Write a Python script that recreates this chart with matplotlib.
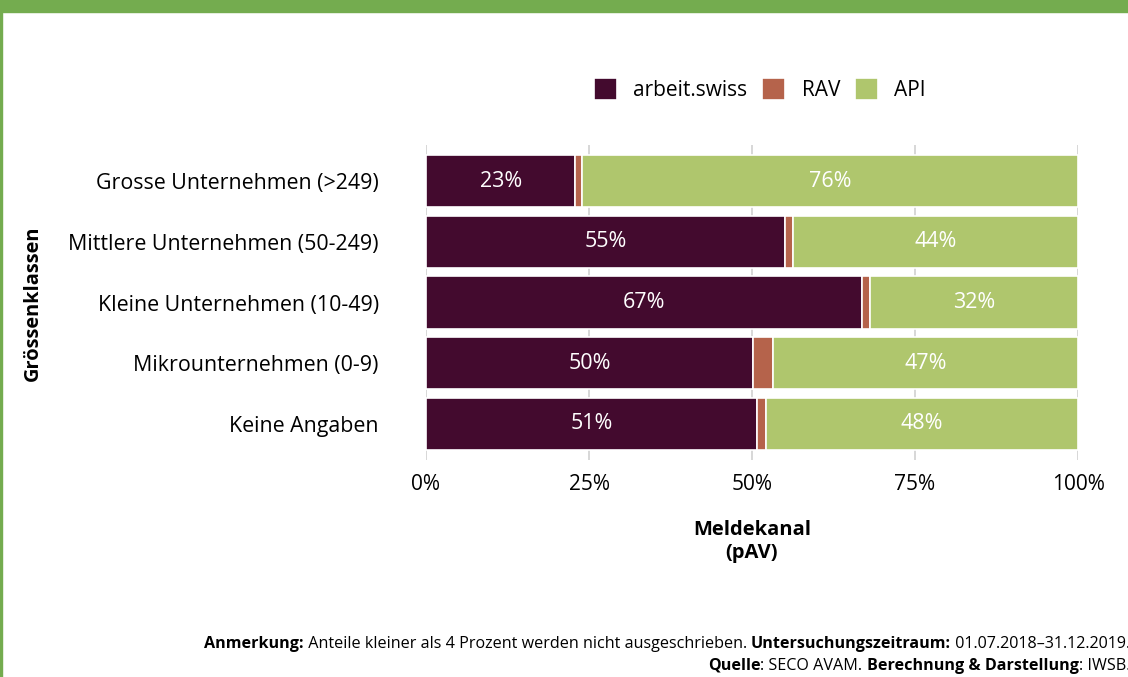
import matplotlib.pyplot as plt
import numpy as np

categories = ["Grosse Unternehmen (>249)", "Mittlere Unternehmen (50-249)",
              "Kleine Unternehmen (10-49)", "Mikrounternehmen (0-9)", "Keine Angaben"]
series_names = ["arbeit.swiss", "RAV", "API"]
arbeit = [22.9, 55.1, 66.9, 50.2, 50.8]
rav = [1.0, 1.2, 1.2, 3.0, 1.4]
api = [76.1, 43.7, 31.9, 46.8, 47.8]
colors = ["#430A2E", "#B5634B", "#AFC66D"]
xticks = [0, 25, 50, 75, 100]

plt.rcParams['font.family'] = ['Open Sans', 'DejaVu Sans']

fig = plt.figure(figsize=(11.28, 6.77), dpi=100)
ax = fig.add_axes([426/1128, 1-460/677, 652/1128, 315/677])

y = np.arange(len(categories))
left = np.zeros(len(categories))
for vals, name, c in zip([arbeit, rav, api], series_names, colors):
    vals = np.array(vals)
    ax.barh(y, vals, left=left, height=0.86, color=c, edgecolor='white',
            linewidth=1.2, label=name, zorder=2)
    for yi, l, v in zip(y, left, vals):
        if v >= 4:
            ax.text(l + v/2, yi, f"{round(v):.0f}%", ha='center', va='center',
                    color='white', fontsize=15.5, zorder=3)
    left = left + vals

ax.set_xlim(0, 100)
ax.set_ylim(len(categories) - 0.4, -0.6)
ax.set_yticks(y)
ax.set_yticklabels(categories, fontsize=15.4)
ax.set_xticks(xticks)
ax.set_xticklabels([f"{t}%" for t in xticks], fontsize=15)
ax.tick_params(length=0, pad=10)
ax.tick_params(axis='y', pad=34)
for s in ax.spines.values():
    s.set_visible(False)
ax.grid(axis='x', color='#d4d4d4', linewidth=1.3, zorder=0)
ax.set_axisbelow(True)

ax.set_xlabel("Meldekanal\n(pAV)", fontsize=14.5, fontweight='bold', labelpad=18,
              linespacing=1.2)
fig.text(33/1128, 1-303/677, "Grössenklassen", rotation=90, ha='center', va='center',
         fontsize=14.4, fontweight='bold')

leg = ax.legend(loc='lower center', bbox_to_anchor=(0.5 + 0.012, 1.08), ncol=3,
                frameon=False, fontsize=15, handlelength=1.1, handleheight=1.3,
                columnspacing=0.7, handletextpad=0.8)

# green frame
fig.add_artist(plt.Rectangle((0, 1-12/677), 1, 12/677, transform=fig.transFigure,
                             color='#74AC4F', zorder=5))
fig.add_artist(plt.Rectangle((0, 0), 2/1128, 1, transform=fig.transFigure,
                             color='#74AC4F', zorder=5))

# footer with mixed bold text, right aligned
footer = [
    [("Anmerkung:", 'bold'), (" Anteile kleiner als 4 Prozent werden nicht ausgeschrieben. ", 'normal'),
     ("Untersuchungszeitraum:", 'bold'), (" 01.07.2018–31.12.2019.", 'normal')],
    [("Quelle", 'bold'), (": SECO AVAM. ", 'normal'), ("Berechnung & Darstellung", 'bold'),
     (": IWSB.", 'normal')],
]
fig.canvas.draw()
r = fig.canvas.get_renderer()
for line, ypix in zip(footer, [648, 670]):
    x = 1130
    for txt, w in reversed(line):
        t = fig.text(x/1128, 1-ypix/677, txt, ha='right', va='baseline', fontsize=11.6,
                     fontweight=w)
        x -= t.get_window_extent(r).width

fig.savefig("out.png", dpi=100)
